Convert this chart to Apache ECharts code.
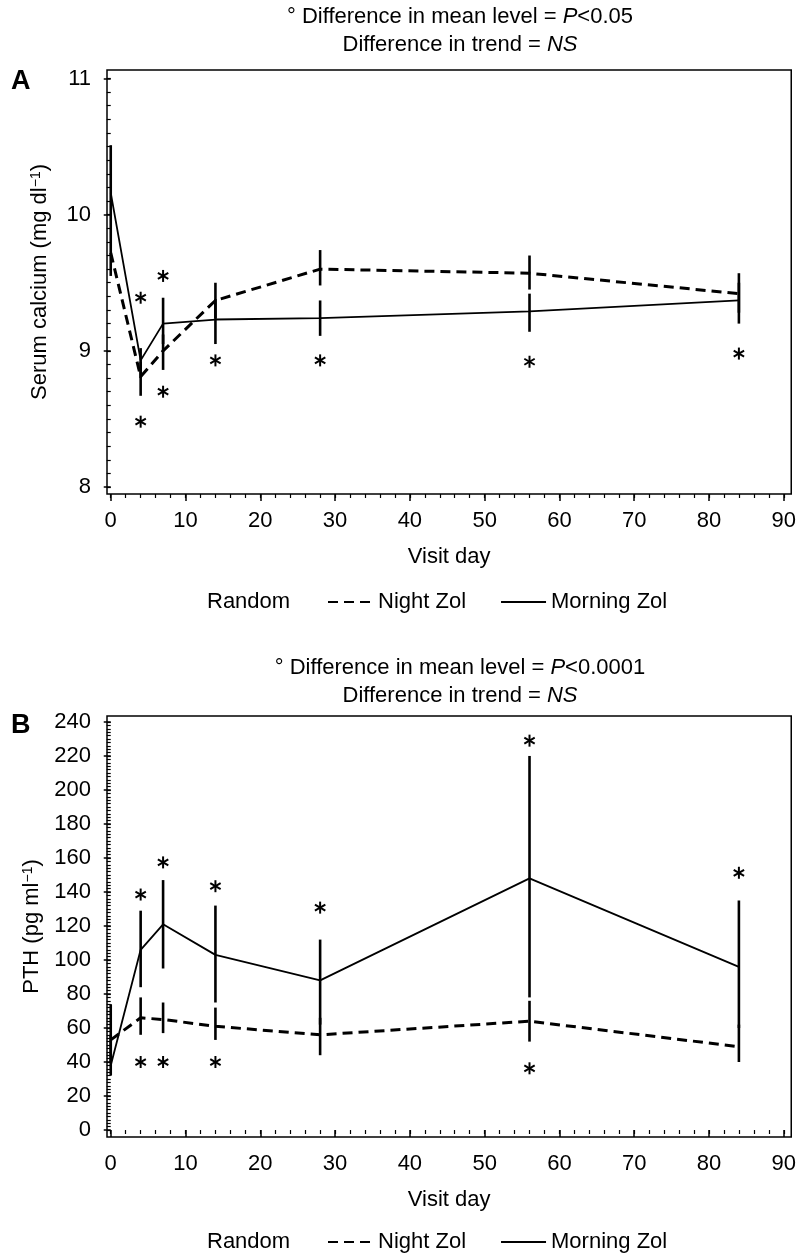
<!DOCTYPE html>
<html><head><meta charset="utf-8">
<script src="https://cdn.jsdelivr.net/npm/echarts@6/dist/echarts.min.js"></script>
<style>html,body{margin:0;padding:0;background:#fff}#c{width:799px;height:1255px}</style>
</head><body><div id="c"></div>
<script>
// ---------- data ----------
const days = [0, 4, 7, 14, 28, 56, 84];

// Panel A: serum calcium (mg/dl)
const caNight        = [9.72, 8.81, 9.00, 9.37, 9.60, 9.57, 9.42];
const caNightLow     = [null, 8.67, 8.86, 9.24, 9.48, 9.45, 9.28];
const caNightHigh    = [null, 8.92, 9.12, 9.50, 9.74, 9.70, 9.57];
const caMorning      = [10.16, 8.93, 9.20, 9.23, 9.24, 9.29, 9.37];
const caMorningLow   = [9.55, 8.80, 9.05, 9.05, 9.11, 9.14, 9.20];
const caMorningHigh  = [10.51, 9.02, 9.39, 9.38, 9.37, 9.42, 9.50];
const caStarDays     = [4, 4, 7, 7, 14, 28, 56, 84];
const caStarVals     = [9.39, 8.48, 9.55, 8.70, 8.93, 8.93, 8.92, 8.98];

// Panel B: PTH (pg/ml)
const pthNight       = [53, 66, 65, 61, 56, 64, 49];
const pthNightLow    = [40, 56, 57, 53, 44, 52, 40];
const pthNightHigh   = [74, 78, 75, 72, 66, 76, 62];
const pthMorning     = [38, 106, 121, 103, 88, 148, 96];
const pthMorningLow  = [32, 84, 95, 75, 62, 78, 60];
const pthMorningHigh = [56, 129, 147, 132, 112, 220, 135];
const pthStarDays    = [4, 4, 7, 7, 14, 14, 28, 56, 56, 84];
const pthStarVals    = [138.5, 40, 157.4, 40, 143.4, 40, 130.8, 229, 36.3, 151.3];

// tick labels
const xTicks = [0, 10, 20, 30, 40, 50, 60, 70, 80, 90];
const caTicks = [8, 9, 10, 11];
const pthTicks = [0, 20, 40, 60, 80, 100, 120, 140, 160, 180, 200, 220, 240];

// minor tick positions
const xMinor = []; for (let v = 0; v <= 90; v += 2) xMinor.push(v);
const caMinor = []; for (let k = 80; k <= 110; k++) caMinor.push(k / 10);
const pthMinor = []; for (let v = 0; v <= 240; v += 2) pthMinor.push(v);

// ---------- helpers ----------
const FONT = "'Liberation Sans', Arial, Helvetica, sans-serif";
const BLACK = '#000';
const FS = 22;

function pts(vals) { return days.map((d, i) => [d, vals[i]]); }

function lineSeries(name, vals, xi, dashed) {
  return {
    name, type: 'line', xAxisIndex: xi, yAxisIndex: xi * 2, data: pts(vals),
    symbol: 'none', color: BLACK, z: 4, silent: true,
    lineStyle: dashed ? { color: BLACK, width: 3, type: [10, 6] } : { color: BLACK, width: 1.8 }
  };
}

function errSeries(lows, highs, xi) {
  const data = [];
  days.forEach((d, i) => { if (lows[i] != null) data.push([d, lows[i], highs[i]]); });
  return {
    type: 'custom', xAxisIndex: xi * 2, yAxisIndex: xi * 2, data, silent: true, z: 3,
    encode: { x: 0, y: [1, 2] },
    renderItem(p, api) {
      const a = api.coord([api.value(0), api.value(1)]);
      const b = api.coord([api.value(0), api.value(2)]);
      return { type: 'line', shape: { x1: a[0], y1: a[1], x2: b[0], y2: b[1] },
               style: { stroke: BLACK, lineWidth: 2.6 } };
    }
  };
}

function starSeries(ds, vs, xi) {
  return {
    type: 'custom', xAxisIndex: xi * 2, yAxisIndex: xi * 2, silent: true, z: 5,
    data: ds.map((d, i) => [d, vs[i]]), encode: { x: 0, y: 1 },
    renderItem(p, api) {
      const c = api.coord([api.value(0), api.value(1)]);
      const r = 6, children = [];
      [90, 30, 150].forEach(a => {
        const t = a * Math.PI / 180;
        children.push({ type: 'line',
          shape: { x1: c[0] - r * Math.cos(t), y1: c[1] - r * Math.sin(t),
                   x2: c[0] + r * Math.cos(t), y2: c[1] + r * Math.sin(t) },
          style: { stroke: BLACK, lineWidth: 2 } });
      });
      return { type: 'group', children };
    }
  };
}

function xAxes(gi) {
  return [
    { gridIndex: gi, type: 'value', min: -0.5, max: 91, position: 'bottom',
      axisLine: { show: false }, splitLine: { show: false },
      axisTick: { show: true, customValues: xTicks, length: 7, lineStyle: { color: BLACK, width: 1.5 } },
      axisLabel: { customValues: xTicks, margin: 16, fontSize: FS, color: BLACK, fontFamily: FONT },
      name: 'Visit day', nameLocation: 'middle', nameGap: 52,
      nameTextStyle: { fontSize: FS, color: BLACK, fontFamily: FONT } },
    { gridIndex: gi, type: 'value', min: -0.5, max: 91, position: 'bottom',
      axisLine: { show: false }, splitLine: { show: false }, axisLabel: { show: false },
      axisTick: { show: true, customValues: xMinor, length: 4, lineStyle: { color: BLACK, width: 1.2 } } }
  ];
}

function yAxes(gi, min, max, ticks, minor, name) {
  return [
    { gridIndex: gi, type: 'value', min, max, position: 'left',
      axisLine: { show: false }, splitLine: { show: false },
      axisTick: { show: true, customValues: ticks, length: 7, lineStyle: { color: BLACK, width: 1.5 } },
      axisLabel: { customValues: ticks, margin: 16, fontSize: FS, color: BLACK, fontFamily: FONT },
      name, nameLocation: 'middle', nameGap: 56, nameRotate: 90,
      nameTextStyle: { fontSize: FS, color: BLACK, fontFamily: FONT,
        rich: { sup: { fontSize: 14, verticalAlign: 'top', fontFamily: FONT, color: BLACK } } } },
    { gridIndex: gi, type: 'value', min, max, position: 'left',
      axisLine: { show: false }, splitLine: { show: false }, axisLabel: { show: false },
      axisTick: { show: true, customValues: minor, length: 4, lineStyle: { color: BLACK, width: 1.2 } } }
  ];
}

function titleText(y, pval) {
  return [
    { type: 'text', x: 460, y: y, style: {
        text: '° Difference in mean level = {i|P}<' + pval, align: 'center', verticalAlign: 'middle',
        fontSize: FS, fontFamily: FONT, fill: BLACK,
        rich: { i: { fontStyle: 'italic', fontSize: FS, fontFamily: FONT, fill: BLACK } } } },
    { type: 'text', x: 460, y: y + 28, style: {
        text: 'Difference in trend = {i|NS}', align: 'center', verticalAlign: 'middle',
        fontSize: FS, fontFamily: FONT, fill: BLACK,
        rich: { i: { fontStyle: 'italic', fontSize: FS, fontFamily: FONT, fill: BLACK } } } }
  ];
}

function legend(top) {
  return { top, left: 327, padding: 0, itemGap: 34, itemWidth: 45, itemHeight: 14,
    selectedMode: false, data: ['Night Zol', 'Morning Zol'],
    itemStyle: { opacity: 0, borderWidth: 0 },
    textStyle: { fontSize: FS, color: BLACK, fontFamily: FONT } };
}

const chart = echarts.init(document.getElementById('c'), null, { renderer: 'canvas' });
chart.setOption({
  animation: false,
  backgroundColor: '#fff',
  textStyle: { fontFamily: FONT },
  grid: [
    { left: 107, top: 70, width: 688, height: 424, show: true, borderColor: BLACK, borderWidth: 1.5 },
    { left: 107, top: 716, width: 688, height: 421, show: true, borderColor: BLACK, borderWidth: 1.5 }
  ],
  xAxis: [...xAxes(0), ...xAxes(1)],
  yAxis: [
    ...yAxes(0, 7.949, 11.062, caTicks, caMinor, 'Serum calcium (mg dl{sup|−1})'),
    ...yAxes(1, -4.1, 243.5, pthTicks, pthMinor, 'PTH (pg ml{sup|−1})')
  ],
  legend: [legend(591), legend(1231)],
  graphic: [
    ...titleText(17, '0.05'),
    ...titleText(668, '0.0001'),
    { type: 'text', x: 11, y: 82, style: { text: 'A', fontSize: 27, fontWeight: 'bold', fontFamily: FONT, fill: BLACK, verticalAlign: 'middle' } },
    { type: 'text', x: 11, y: 726, style: { text: 'B', fontSize: 27, fontWeight: 'bold', fontFamily: FONT, fill: BLACK, verticalAlign: 'middle' } },
    { type: 'text', x: 207, y: 602, style: { text: 'Random', fontSize: FS, fontFamily: FONT, fill: BLACK, verticalAlign: 'middle' } },
    { type: 'text', x: 207, y: 1242, style: { text: 'Random', fontSize: FS, fontFamily: FONT, fill: BLACK, verticalAlign: 'middle' } }
  ],
  series: [
    errSeries(caNightLow, caNightHigh, 0),
    errSeries(caMorningLow, caMorningHigh, 0),
    lineSeries('Night Zol', caNight, 0, true),
    lineSeries('Morning Zol', caMorning, 0, false),
    starSeries(caStarDays, caStarVals, 0),
    errSeries(pthNightLow, pthNightHigh, 1),
    errSeries(pthMorningLow, pthMorningHigh, 1),
    { ...lineSeries('Night Zol', pthNight, 1, true), xAxisIndex: 2, yAxisIndex: 2 },
    { ...lineSeries('Morning Zol', pthMorning, 1, false), xAxisIndex: 2, yAxisIndex: 2 },
    starSeries(pthStarDays, pthStarVals, 1)
  ]
});
</script>
</body></html>
